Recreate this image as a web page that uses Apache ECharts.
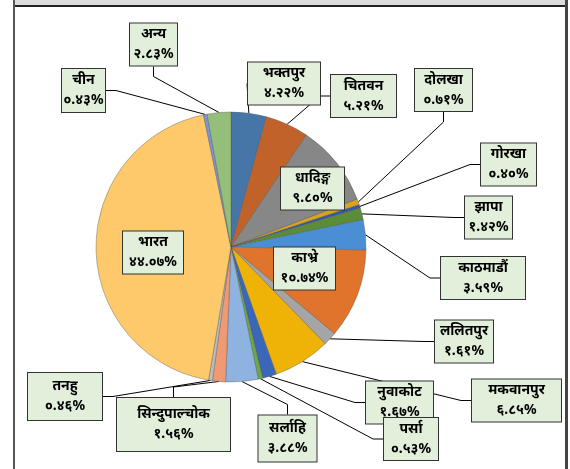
<!DOCTYPE html>
<html>
<head>
<meta charset="utf-8">
<script src="https://cdn.jsdelivr.net/npm/echarts@6/dist/echarts.min.js"></script>
<style>
  html, body { margin: 0; padding: 0; background: #fff; }
  #wrap { position: relative; width: 570px; height: 469px; overflow: hidden; }
  #band { position: absolute; left: 13px; top: 0; width: 553px; height: 5px; background: #dcdcdc; border-bottom: 2px solid #222; }
  #frameL { position: absolute; left: 13px; top: 0; width: 2px; height: 469px; background: #555; }
  #frameR { position: absolute; left: 565px; top: 0; width: 3px; height: 469px; background: #444; }
  #chart { position: absolute; left: 0; top: 0; width: 570px; height: 469px; }
</style>
</head>
<body>
<div id="wrap">
  <div id="band"></div>
  <div id="frameL"></div>
  <div id="frameR"></div>
  <div id="chart"></div>
</div>
<script>
// जिल्ला / देश
var names = [
  "भक्तपुर", "चितवन", "धादिङ्ग", "दोलखा", "गोरखा", "झापा", "काठमाडौं", "काभ्रे",
  "ललितपुर", "मकवानपुर", "नुवाकोट", "पर्सा", "सर्लाहि", "सिन्दुपाल्चोक", "तनहु",
  "भारत", "चीन", "अन्य"
];
// प्रतिशत
var values = [
  4.22, 5.21, 9.80, 0.71, 0.40, 1.42, 3.59, 10.74,
  1.61, 6.85, 1.67, 0.53, 3.88, 1.56, 0.46,
  44.07, 0.43, 2.83
];
var colors = [
  "#4676a8", "#c0622a", "#878787", "#d9a31a", "#3459a8", "#5b8c37", "#4a8fd6", "#e0742c",
  "#a5a5a5", "#efb308", "#3a67b9", "#6daa45", "#8eb3e0", "#f09a74", "#bdbdbd",
  "#fdc96a", "#7a96d6", "#94be7a"
];
// label box centres
var labelPos = [
  [284, 83.5], [363.5, 96], [312.5, 188.5], [443.5, 90], [508.5, 164.5], [488.5, 217.5], [483, 278], [304.5, 268.5],
  [464, 341.5], [516.5, 400.5], [399.5, 402.5], [411, 439], [287.5, 438.5], [173.5, 424.5], [65, 396.5],
  [153, 252.5], [83.5, 90.5], [153.5, 44.5]
];
// label box sizes [w, h]
var labelBox = [
  [74, 43], [67, 44], [65, 43], [59, 44], [57, 43], [49, 43], [86, 44], [63, 43],
  [60, 43], [91, 43], [69, 43], [56, 40], [60, 48], [115, 55], [76, 49],
  [62, 43], [45, 45], [49, 43]
];
var insideLabels = ["धादिङ्ग", "काभ्रे", "भारत"];

var devDigits = "०१२३४५६७८९";
function toDev(n) {
  return n.toFixed(2).replace(/[0-9]/g, function (d) { return devDigits[+d]; });
}

var myChart = echarts.init(document.getElementById("chart"));

var seriesData = names.map(function (n, i) {
  var b = labelBox[i];
  var vpad = Math.max(1, (b[1] - 2 - 40) / 2);
  var item = {
    name: n,
    value: values[i],
    itemStyle: { color: colors[i] },
    label: { width: b[0] - 2, padding: [vpad, 0] }
  };
  if (insideLabels.indexOf(n) >= 0) item.labelLine = { show: false };
  return item;
});

myChart.setOption({
  animation: false,
  series: [
    {
      type: "pie",
      center: [231, 247],
      radius: [0, 135],
      startAngle: 90,
      clockwise: true,
      avoidLabelOverlap: false,
      data: seriesData,
      itemStyle: {
        borderColor: "rgba(80,80,80,0.55)",
        borderWidth: 0.7
      },
      label: {
        show: true,
        position: "outside",
        formatter: function (p) {
          return p.name + "\n" + toDev(p.value) + "%";
        },
        color: "#000",
        fontFamily: "'Noto Sans', sans-serif",
        fontWeight: "bold",
        fontSize: 14,
        lineHeight: 20,
        align: "center",
        backgroundColor: "#e2efda",
        borderColor: "#333",
        borderWidth: 1
      },
      labelLine: {
        show: true,
        length: 10,
        length2: 10,
        lineStyle: { color: "#000", width: 1 }
      },
      labelLayout: function (params) {
        var p = labelPos[params.dataIndex];
        return { x: p[0], y: p[1], align: "center", verticalAlign: "middle", hideOverlap: false };
      }
    }
  ]
});
</script>
</body>
</html>
